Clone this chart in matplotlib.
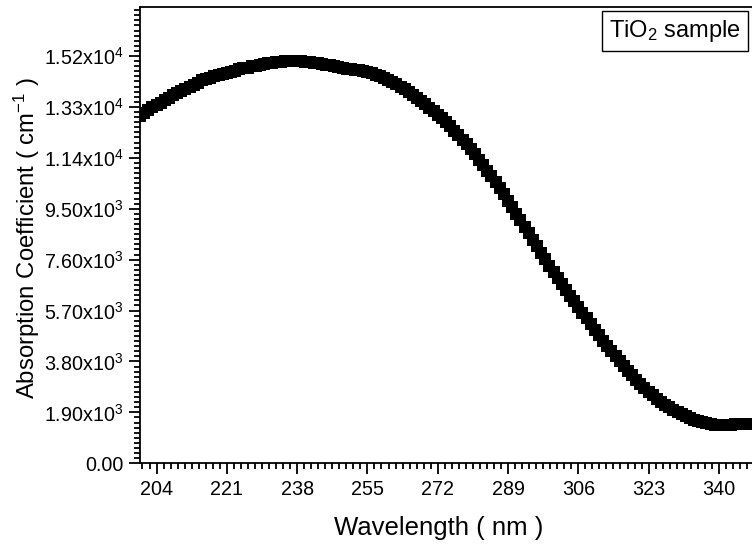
import matplotlib
matplotlib.use("Agg")
import matplotlib.pyplot as plt
from matplotlib.ticker import FixedLocator, MultipleLocator, FixedFormatter
import numpy as np

plt.rcParams['font.family'] = ['Liberation Sans', 'DejaVu Sans']
plt.rcParams['mathtext.fontset'] = 'custom'
plt.rcParams['mathtext.rm'] = 'Liberation Sans'
plt.rcParams['mathtext.it'] = 'Liberation Sans'
plt.rcParams['mathtext.default'] = 'regular'

# ---- data ----
wavelength_start = 200
absorption = [
    12980, 13080, 13180, 13280, 13370, 13460, 13560, 13650, 13740, 13820,
    13900, 13980, 14060, 14130, 14210, 14290,
    14340, 14390, 14440, 14490, 14540, 14580, 14620, 14660, 14700, 14740,
    14770, 14810, 14840, 14870, 14900, 14930, 14950, 14970, 14990, 15000,
    15010, 15010, 15010, 15000, 14990, 14970, 14950, 14930, 14910, 14880,
    14850, 14820, 14790, 14760, 14730, 14710, 14690, 14670, 14640,
    14600, 14555, 14502, 14442, 14375, 14302, 14223, 14138, 14048, 13953,
    13853, 13748, 13638, 13523, 13403, 13278, 13148, 13013,
    12872, 12725, 12572, 12413, 12248, 12077, 11900, 11717, 11528, 11333,
    11132, 10925, 10712, 10493, 10268, 10037, 9801, 9561, 9318, 9073,
    8827, 8581, 8336, 8093, 7853, 7616, 7382, 7151, 6923, 6698,
    6476, 6257, 6041, 5828, 5618, 5406, 5196, 4988, 4782, 4579,
    4379, 4183, 3991, 3804, 3623, 3448, 3279, 3117, 2962, 2814,
    2673, 2539, 2413, 2295, 2185, 2083, 1989, 1903, 1825, 1755,
    1688, 1626, 1570, 1523, 1487, 1462, 1448, 1442, 1441, 1443,
    1446, 1450, 1455, 1461, 1467, 1474, 1480, 1487,
]
wavelength = list(range(wavelength_start, wavelength_start + len(absorption)))

x_ticks = [204, 221, 238, 255, 272, 289, 306, 323, 340]
y_ticks = [0, 1900, 3800, 5700, 7600, 9500, 11400, 13300, 15200]
y_tick_labels = ['0.00', '1.90x10$^3$', '3.80x10$^3$', '5.70x10$^3$', '7.60x10$^3$',
                 '9.50x10$^3$', '1.14x10$^4$', '1.33x10$^4$', '1.52x10$^4$']

W, H = 752, 546
fig = plt.figure(figsize=(W / 100, H / 100), dpi=100)
left_px, bottom_px, top_px = 140, 463.3, 7
px_per_nm = 4.135
x_min, x_max = 200, 350
ax = fig.add_axes([left_px / W, (H - bottom_px) / H,
                   (x_max - x_min) * px_per_nm / W, (bottom_px - top_px) / H])

ax.plot(wavelength, absorption, linestyle='none', marker='s', color='black',
        markersize=8.4, markeredgewidth=0)

ax.set_xlim(x_min, x_max)
ax.set_ylim(0, 17030)

ax.xaxis.set_major_locator(FixedLocator(x_ticks))
ax.xaxis.set_minor_locator(MultipleLocator(1.7))
ax.yaxis.set_major_locator(FixedLocator(y_ticks))
ax.yaxis.set_major_formatter(FixedFormatter(y_tick_labels))
ax.yaxis.set_minor_locator(MultipleLocator(190))

ax.tick_params(which='major', direction='out', length=8, width=1.3, labelsize=14.2,
               colors='black')
ax.tick_params(which='minor', direction='out', length=4, width=1.3)
ax.tick_params(axis='x', which='major', pad=4)
ax.tick_params(axis='y', which='major', pad=4)
for s in ax.spines.values():
    s.set_linewidth(1.3)

ax.set_xlabel('Wavelength ( nm )', fontsize=18.5, labelpad=12)
ax.xaxis.label.set_x(0.481)
ax.set_ylabel('Absorption Coefficient ( cm$^{-1}$ )', fontsize=17.2, labelpad=1)
ax.yaxis.label.set_y(0.494)

fig.text(609 / W, 1 - 31 / H, 'TiO$_2$ sample', fontsize=17, va='center', ha='left',
         bbox=dict(boxstyle='square,pad=0.3', facecolor='white', edgecolor='black',
                   linewidth=1.0))

fig.savefig('out.png', dpi=100)
